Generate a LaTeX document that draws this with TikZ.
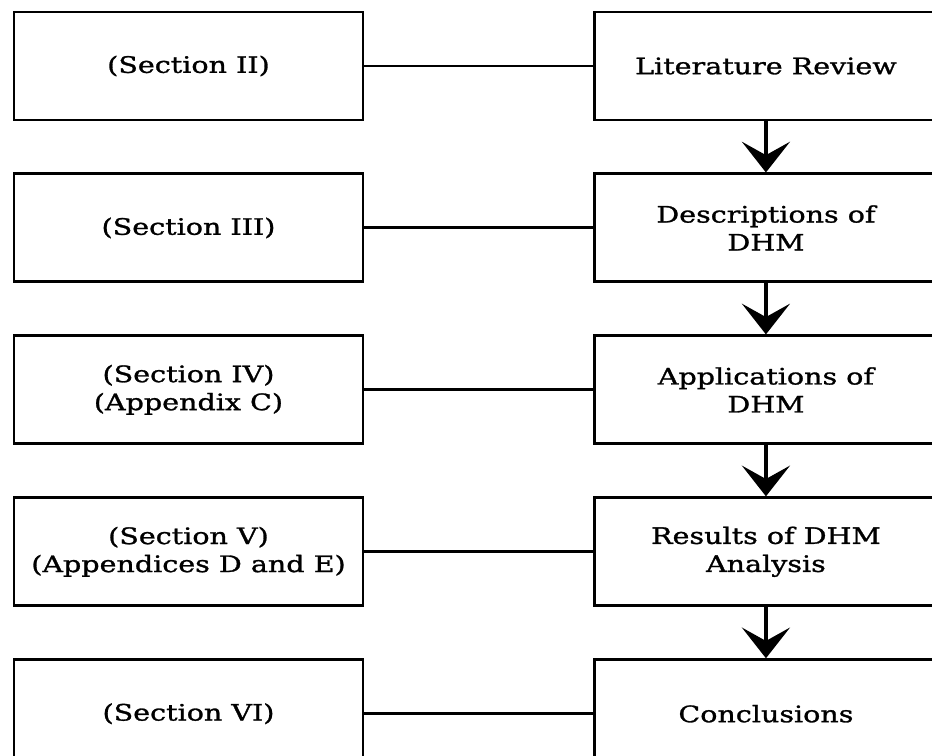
\documentclass[tikz,border=0pt]{standalone}
\usepackage{fontspec}
\setmainfont{DejaVu Serif}[FakeStretch=1.26,FakeBold=1.2]
\usepackage{tikz}
\usetikzlibrary{arrows.meta,positioning,shapes}

\begin{document}
\begin{tikzpicture}[x=0.75pt,y=-0.75pt,node distance=38.25pt and 171.75pt,
  every node/.style={font=\fontsize{17}{21}\selectfont}
]

\tikzstyle{secbox}=[draw,rectangle,line width=2.2pt,minimum width=261.75pt,minimum height=81pt,inner sep=0pt,align=center]
\tikzstyle{stepbox}=[draw,rectangle,line width=2.2pt,minimum width=256.5pt,minimum height=81pt,inner sep=0pt,align=center]

\useasboundingbox (0,0) rectangle (932,756);

\node[secbox] (s1) at (188.5,66) {(Section II)};
\node[secbox, below=of s1] (s2) {(Section III)};
\node[secbox, below=of s2] (s3) {(Section IV)\\(Appendix C)};
\node[secbox, below=of s3] (s4) {(Section V)\\(Appendices D and E)};
\node[secbox, below=of s4] (s5) {(Section VI)};

\node[stepbox, right=of s1] (r1) {Literature Review};
\node[stepbox, right=of s2] (r2) {Descriptions of\\DHM};
\node[stepbox, right=of s3] (r3) {Applications of\\DHM};
\node[stepbox, right=of s4] (r4) {Results of DHM\\Analysis};
\node[stepbox, right=of s5] (r5) {Conclusions};

\draw[line width=2.2pt]
  (s1) edge (r1)
  (s2) edge (r2)
  (s3) edge (r3)
  (s4) edge (r4)
  (s5) edge (r5);

\draw[line width=2.8pt,>={Stealth[length=23pt,width=36pt,inset=10pt]},->]
  (r1) edge (r2)
  (r2) edge (r3)
  (r3) edge (r4)
  (r4) edge (r5);

\end{tikzpicture}
\end{document}
